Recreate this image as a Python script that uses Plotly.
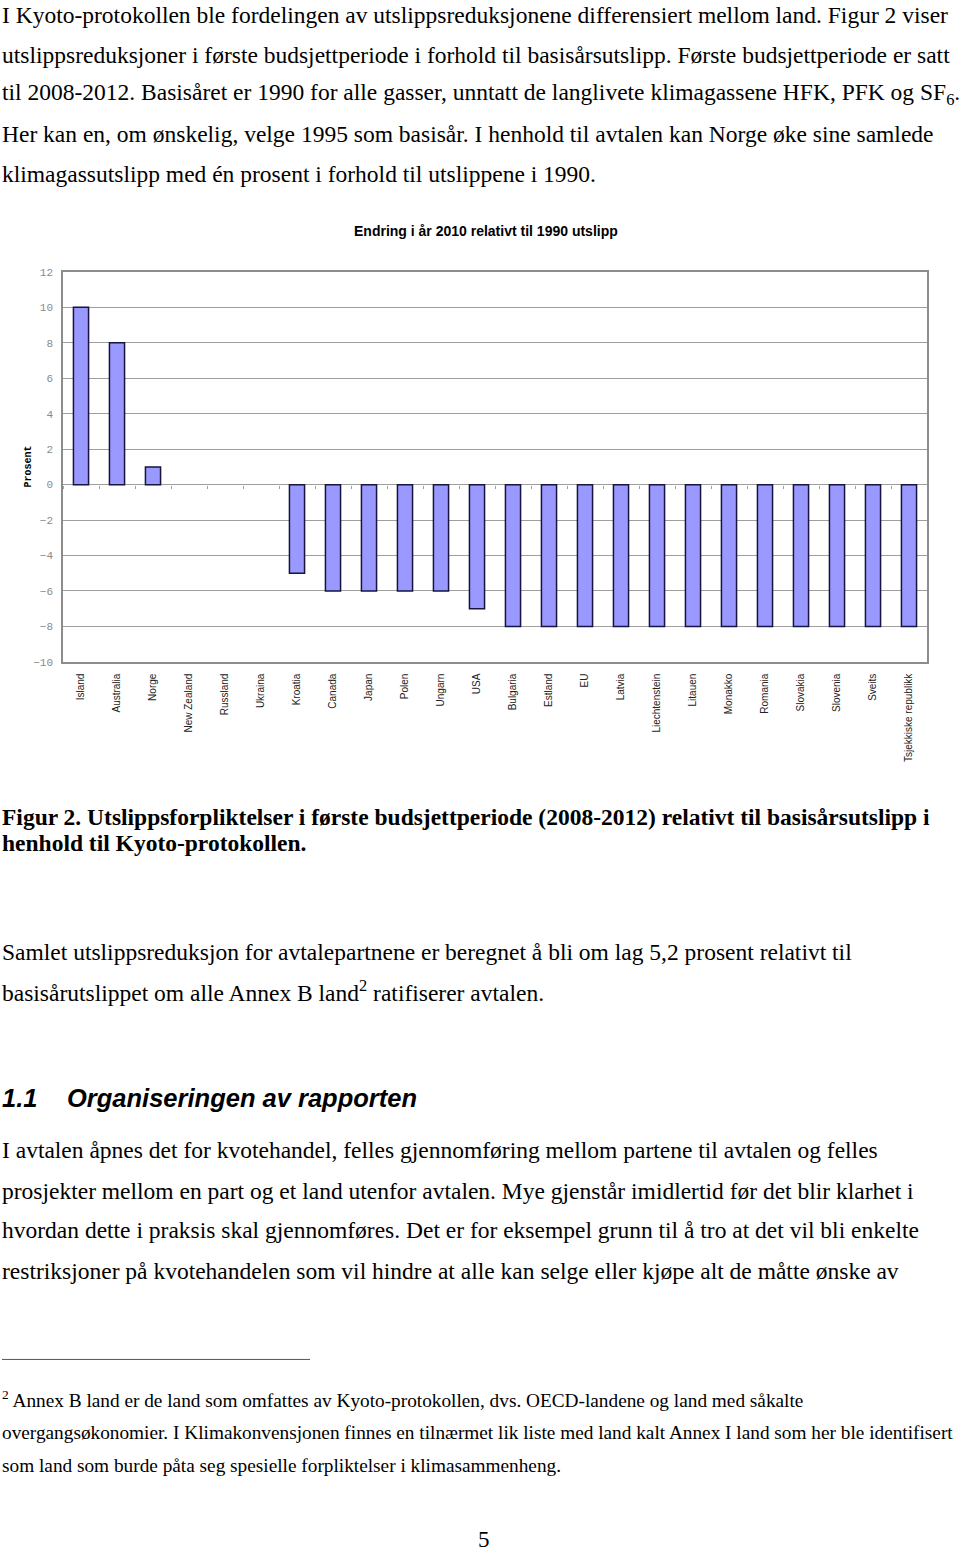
import plotly.graph_objects as go

W, H = 960, 1551

countries = ["Island", "Australia", "Norge", "New Zealand", "Russland", "Ukraina",
             "Kroatia", "Canada", "Japan", "Polen", "Ungarn", "USA", "Bulgaria",
             "Estland", "EU", "Latvia", "Liechtenstein", "Litauen", "Monakko",
             "Romania", "Slovakia", "Slovenia", "Sveits", "Tsjekkiske republikk"]
endring = [10, 8, 1, 0, 0, 0, -5, -6, -6, -6, -6, -7, -8, -8, -8, -8, -8, -8, -8,
           -8, -8, -8, -8, -8]
y_ticks = [12, 10, 8, 6, 4, 2, 0, -2, -4, -6, -8, -10]

chart_title = "Endring i år 2010 relativt til 1990 utslipp"
y_title = "Prosent"

para1 = [
    "I Kyoto-protokollen ble fordelingen av utslippsreduksjonene differensiert mellom land. Figur 2 viser",
    "utslippsreduksjoner i første budsjettperiode i forhold til basisårsutslipp. Første budsjettperiode er satt",
    "til 2008-2012. Basisåret er 1990 for alle gasser, unntatt de langlivete klimagassene HFK, PFK og SF<sub>6</sub>.",
    "Her kan en, om ønskelig, velge 1995 som basisår. I henhold til avtalen kan Norge øke sine samlede",
    "klimagassutslipp med én prosent i forhold til utslippene i 1990.",
]
caption = [
    "Figur 2. Utslippsforpliktelser i første budsjettperiode (2008-2012) relativt til basisårsutslipp i",
    "henhold til Kyoto-protokollen.",
]
para2 = [
    "Samlet utslippsreduksjon for avtalepartnene er beregnet å bli om lag 5,2 prosent relativt til",
    "basisårutslippet om alle Annex B land<sup>2</sup> ratifiserer avtalen.",
]
heading_num = "1.1"
heading_txt = "Organiseringen av rapporten"
para3 = [
    "I avtalen åpnes det for kvotehandel, felles gjennomføring mellom partene til avtalen og felles",
    "prosjekter mellom en part og et land utenfor avtalen. Mye gjenstår imidlertid før det blir klarhet i",
    "hvordan dette i praksis skal gjennomføres. Det er for eksempel grunn til å tro at det vil bli enkelte",
    "restriksjoner på kvotehandelen som vil hindre at alle kan selge eller kjøpe alt de måtte ønske av",
]
footnote = [
    "<sup>2</sup> Annex B land er de land som omfattes av Kyoto-protokollen, dvs. OECD-landene og land med såkalte",
    "overgangsøkonomier. I Klimakonvensjonen finnes en tilnærmet lik liste med land kalt Annex I land som her ble identifisert",
    "som land som burde påta seg spesielle forpliktelser i klimasammenheng.",
]
page_no = "5"

# ---- layout geometry (pixels) ----
px_left, px_right, px_top, px_bottom = 63, 927, 269, 662
x_dom = [px_left / W, px_right / W]
y_dom = [1 - px_bottom / H, 1 - px_top / H]
y_range = [-10, 12]


def fx(px):
    return px / W


def fy(py):
    return 1 - py / H


serif = "Liberation Serif, Times New Roman, serif"
sans = "Liberation Sans, Arial, sans-serif"
mono = "Liberation Mono, Courier New, monospace"

fig = go.Figure()
fig.add_trace(go.Bar(
    x=countries, y=endring,
    marker=dict(color="#9999FF",
                line=dict(color="#15153f", width=[0 if v == 0 else 1.5 for v in endring])),
    hoverinfo="x+y", showlegend=False,
))
# helper axis carrying the category ticks on the zero line
fig.add_trace(go.Scatter(
    x=countries, y=[0] * len(countries), xaxis="x2", yaxis="y",
    mode="markers", marker=dict(opacity=0), hoverinfo="skip", showlegend=False,
))

zero_pos = y_dom[0] + (0 - y_range[0]) / (y_range[1] - y_range[0]) * (y_dom[1] - y_dom[0])

fig.update_layout(
    width=W, height=H,
    margin=dict(l=0, r=0, t=0, b=0),
    paper_bgcolor="white", plot_bgcolor="white",
    bargap=0.58,
    xaxis=dict(
        domain=x_dom, type="category", categoryarray=countries,
        range=[-0.5, len(countries) - 0.5],
        showline=True, linecolor="#8c8c8c", linewidth=1.5, mirror=True,
        showgrid=False, ticks="", tickangle=-90,
        tickfont=dict(family=sans, size=10, color="#222222"),
        ticklabelstandoff=6,
    ),
    xaxis2=dict(
        domain=x_dom, type="category", categoryarray=countries,
        range=[-0.5, len(countries) - 0.5], overlaying="x",
        anchor="free", position=zero_pos, showline=False, showgrid=False,
        showticklabels=False, ticks="outside", tickson="boundaries",
        ticklen=3, tickcolor="#a0a0a0", tickwidth=1,
    ),
    yaxis=dict(
        domain=y_dom, range=y_range, tickvals=y_ticks,
        ticktext=[str(v).replace("-", "\u2212") for v in y_ticks],
        showline=True, linecolor="#8c8c8c", linewidth=1.5, mirror=True,
        showgrid=True, gridcolor="#9e9e9e", gridwidth=1,
        zeroline=True, zerolinecolor="#9e9e9e", zerolinewidth=1,
        ticks="", tickfont=dict(family=mono, size=11, color="#8a8a8a"),
        ticklabelstandoff=6,
        title=None,
    ),
)

ann = []


def text(s, x, y, size, family=serif, bold=False, italic=False, anchor="left", color="black"):
    if bold:
        s = "<b>" + s + "</b>"
    if italic:
        s = "<i>" + s + "</i>"
    ann.append(dict(text=s, x=fx(x), y=fy(y), xref="paper", yref="paper",
                    xanchor=anchor, yanchor="middle", showarrow=False,
                    font=dict(family=family, size=size, color=color),
                    borderpad=0))


body = 23.5
for i, s in enumerate(para1):
    text(s, 1, [10, 50, 90, 130, 170][i], body)

text(chart_title, 486, 228, 14, family=sans, bold=True, anchor="center")
ann.append(dict(text="<b>" + y_title + "</b>", x=fx(28), y=fy(465), xref="paper", yref="paper",
                xanchor="center", yanchor="middle", showarrow=False, textangle=-90,
                font=dict(family=mono, size=10, color="black")))

for i, s in enumerate(caption):
    text(s, 1, [818, 845][i], body, bold=True)
for i, s in enumerate(para2):
    text(s, 1, [954, 994][i], body)

text(heading_num, 1, 1102, 25.5, family=sans, bold=True, italic=True)
text(heading_txt, 66, 1102, 25.5, family=sans, bold=True, italic=True)

for i, s in enumerate(para3):
    text(s, 1, [1154, 1195, 1235, 1276][i], body)

for i, s in enumerate(footnote):
    text(s, 1, [1405, 1439, 1472][i], 19.3)

text(page_no, 484, 1546, 23, anchor="center")

fig.update_layout(annotations=ann)
fig.add_shape(type="line", xref="paper", yref="paper", x0=fx(2), x1=fx(310),
              y0=fy(1365), y1=fy(1365), line=dict(color="#555555", width=1))

fig.write_html("out.html")
